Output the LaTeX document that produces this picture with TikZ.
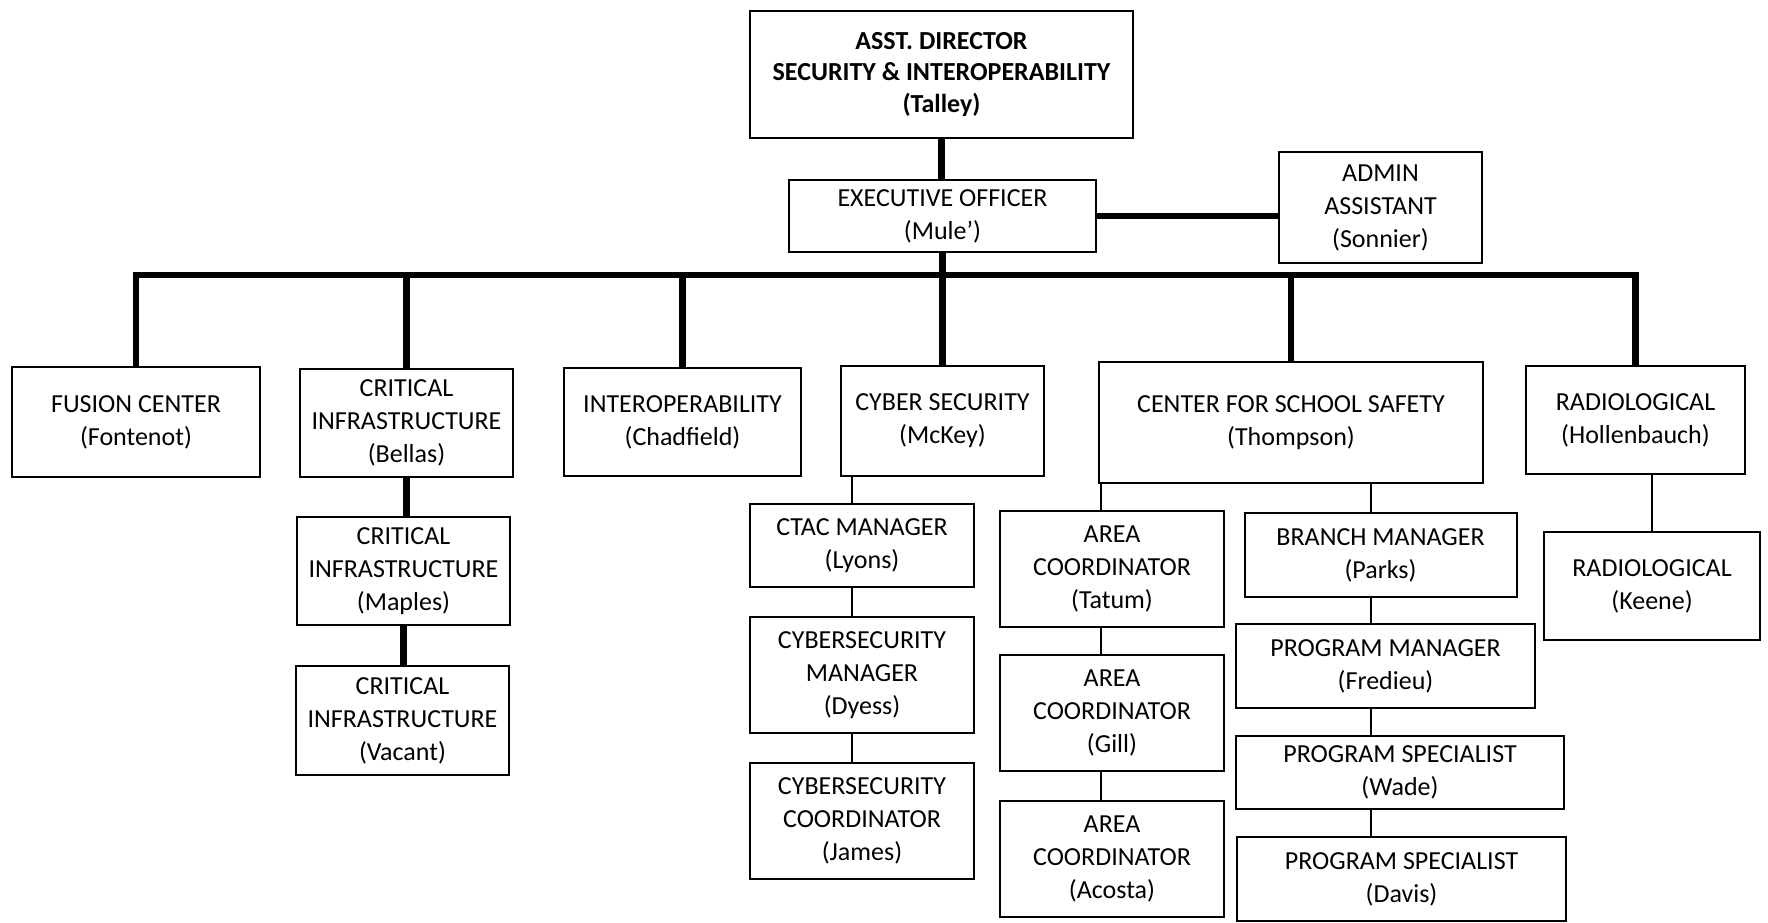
\documentclass[tikz,border=0pt]{standalone}
\usepackage{fontspec}
\setmainfont{Carlito}
\usepackage{tikz}

\begin{document}
\begin{tikzpicture}[x=0.5pt, y=-0.5pt,
  box/.style={draw, line width=1pt, align=center, inner sep=0pt,
    font=\fontsize{13}{16.5}\selectfont},
  wh/.style 2 args={minimum width=#1*0.5pt, minimum height=#2*0.5pt},
  heavy/.style={line width=3.25pt},
  light/.style={line width=1pt}]
\useasboundingbox (0,0) rectangle (1768,922);

\node[box, wh={383}{127}, font=\fontsize{13}{15.75}\selectfont\bfseries] (director) at (941.5,74.5)
  {ASST. DIRECTOR\\SECURITY \& INTEROPERABILITY\\(Talley)};
\node[box, wh={307}{72}] (execoff) at (942.5,216) {EXECUTIVE OFFICER\\(Mule’)};
\node[box, wh={203}{111}] (admin) at (1380.5,207.5) {ADMIN\\ASSISTANT\\(Sonnier)};

\node[box, wh={248}{110}] (fusion) at (136,422) {FUSION CENTER\\(Fontenot)};
\node[box, wh={213}{108}] (crit) at (406.5,423) {CRITICAL\\INFRASTRUCTURE\\(Bellas)};
\node[box, wh={237}{108}] (interop) at (682.5,422) {INTEROPERABILITY\\(Chadfield)};
\node[box, wh={203}{110}] (cyber) at (942.5,421) {CYBER SECURITY\\(McKey)};
\node[box, wh={384}{121}] (school) at (1291,422.5) {CENTER FOR SCHOOL SAFETY\\(Thompson)};
\node[box, wh={219}{108}] (radio) at (1635.5,420) {RADIOLOGICAL\\(Hollenbauch)};

\node[box, wh={213}{108}] (critb) at (403.5,571) {CRITICAL\\INFRASTRUCTURE\\(Maples)};
\node[box, wh={213}{109}] (critc) at (402.5,720.5) {CRITICAL\\INFRASTRUCTURE\\(Vacant)};

\node[box, wh={224}{83}] (ctac) at (862,545.5) {CTAC MANAGER\\(Lyons)};
\node[box, wh={224}{116}] (cybermgr) at (862,675) {CYBERSECURITY\\MANAGER\\(Dyess)};
\node[box, wh={224}{116}] (cybercoord) at (862,821) {CYBERSECURITY\\COORDINATOR\\(James)};

\node[box, wh={224}{116}] (areaa) at (1112,569) {AREA\\COORDINATOR\\(Tatum)};
\node[box, wh={224}{116}] (areab) at (1112,713) {AREA\\COORDINATOR\\(Gill)};
\node[box, wh={224}{116}] (areac) at (1112,859) {AREA\\COORDINATOR\\(Acosta)};

\node[box, wh={272}{84}] (branch) at (1380.5,555) {BRANCH MANAGER\\(Parks)};
\node[box, wh={299}{84}] (progmgr) at (1385.5,666) {PROGRAM MANAGER\\(Fredieu)};
\node[box, wh={328}{73}] (speca) at (1400,772.5) {PROGRAM SPECIALIST\\(Wade)};
\node[box, wh={329}{84}] (specb) at (1401.5,879) {PROGRAM SPECIALIST\\(Davis)};

\node[box, wh={216}{108}] (radiob) at (1652,586) {RADIOLOGICAL\\(Keene)};

\coordinate (busline) at (942,275);
\coordinate (cyberspine) at (852,0);
\coordinate (areaspine) at (1101,0);
\coordinate (branchspine) at (1371,0);

\draw[heavy] (director.south) -- (director.south |- execoff.north);
\draw[heavy] (execoff.east) -- (execoff.east -| admin.west);
\draw[heavy] (execoff.south) -- (execoff.south |- cyber.north);
\draw[heavy] (fusion.north) |- (busline) -| (radio.north);
\foreach \n in {crit, interop, school}
	{\draw[heavy] (\n.north) -- (\n.north |- busline);};
\draw[heavy] (crit.south) -- (crit.south |- critb.north);
\draw[heavy] (critb.south) -- (critb.south |- critc.north);

\draw[light] (cyberspine |- cyber.south) -- (cyberspine |- ctac.north);
\draw[light] (cyberspine |- ctac.south) -- (cyberspine |- cybermgr.north);
\draw[light] (cyberspine |- cybermgr.south) -- (cyberspine |- cybercoord.north);
\draw[light] (areaspine |- school.south) -- (areaspine |- areaa.north);
\draw[light] (areaspine |- areaa.south) -- (areaspine |- areab.north);
\draw[light] (areaspine |- areab.south) -- (areaspine |- areac.north);
\draw[light] (branchspine |- school.south) -- (branchspine |- branch.north);
\draw[light] (branchspine |- branch.south) -- (branchspine |- progmgr.north);
\draw[light] (branchspine |- progmgr.south) -- (branchspine |- speca.north);
\draw[light] (branchspine |- speca.south) -- (branchspine |- specb.north);
\draw[light] (radiob.north |- radio.south) -- (radiob.north);
\end{tikzpicture}
\end{document}
